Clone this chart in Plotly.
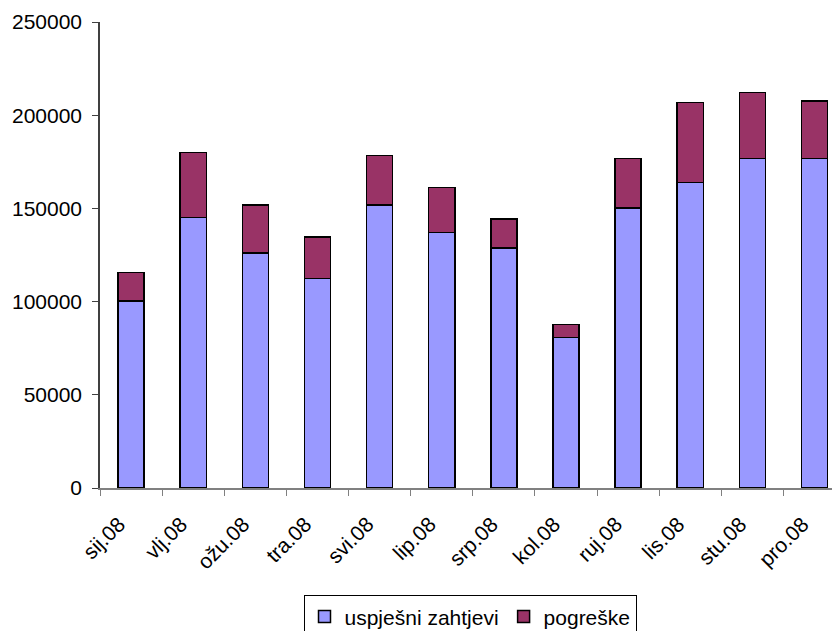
import plotly.graph_objects as go

months = ["sij.08", "vlj.08", "ožu.08", "tra.08", "svi.08", "lip.08",
          "srp.08", "kol.08", "ruj.08", "lis.08", "stu.08", "pro.08"]
uspjesni = [100300, 145100, 126100, 112300, 151700, 137200,
            128800, 80700, 150200, 164000, 176900, 176900]
pogreske = [15400, 35000, 25700, 22400, 26800, 24100,
            15500, 6900, 26700, 42900, 35200, 30700]

FONT = "Liberation Sans, Arial, sans-serif"

fig = go.Figure()
fig.add_trace(go.Bar(x=months, y=uspjesni, name="uspješni zahtjevi",
                     marker=dict(color="#9999FF", line=dict(color="black", width=1.5)),
                     width=0.42))
fig.add_trace(go.Bar(x=months, y=pogreske, name="pogreške",
                     marker=dict(color="#993366", line=dict(color="black", width=1.5)),
                     width=0.42))

fig.update_layout(
    barmode="stack",
    width=832, height=623,
    margin=dict(l=92, r=0, t=14, b=143, autoexpand=False),
    plot_bgcolor="white", paper_bgcolor="white",
    font=dict(family=FONT, size=21, color="black"),
    showlegend=True,
    legend=dict(orientation="h", x=0.5, xanchor="center", y=-0.2303, yanchor="top",
                bordercolor="black", borderwidth=1, font=dict(size=21),
                traceorder="normal", itemwidth=30, entrywidth=0),
    xaxis=dict(range=[-0.5, 11.41], showline=True, linecolor="#808080", linewidth=1.5,
               ticks="outside", ticklen=6, tickcolor="#808080", tickson="boundaries",
               tickangle=-45, showgrid=False, zeroline=False, automargin=False,
               ticklabelstandoff=14, ticklabelshift=-12),
    yaxis=dict(range=[0, 250000], dtick=50000, showline=True, linecolor="#404040",
               linewidth=1.5, ticks="outside", ticklen=6, tickcolor="#404040",
               showgrid=False, zeroline=False, tickformat="d", automargin=False,
               ticklabelstandoff=6),
)

fig.write_html("out.html")
